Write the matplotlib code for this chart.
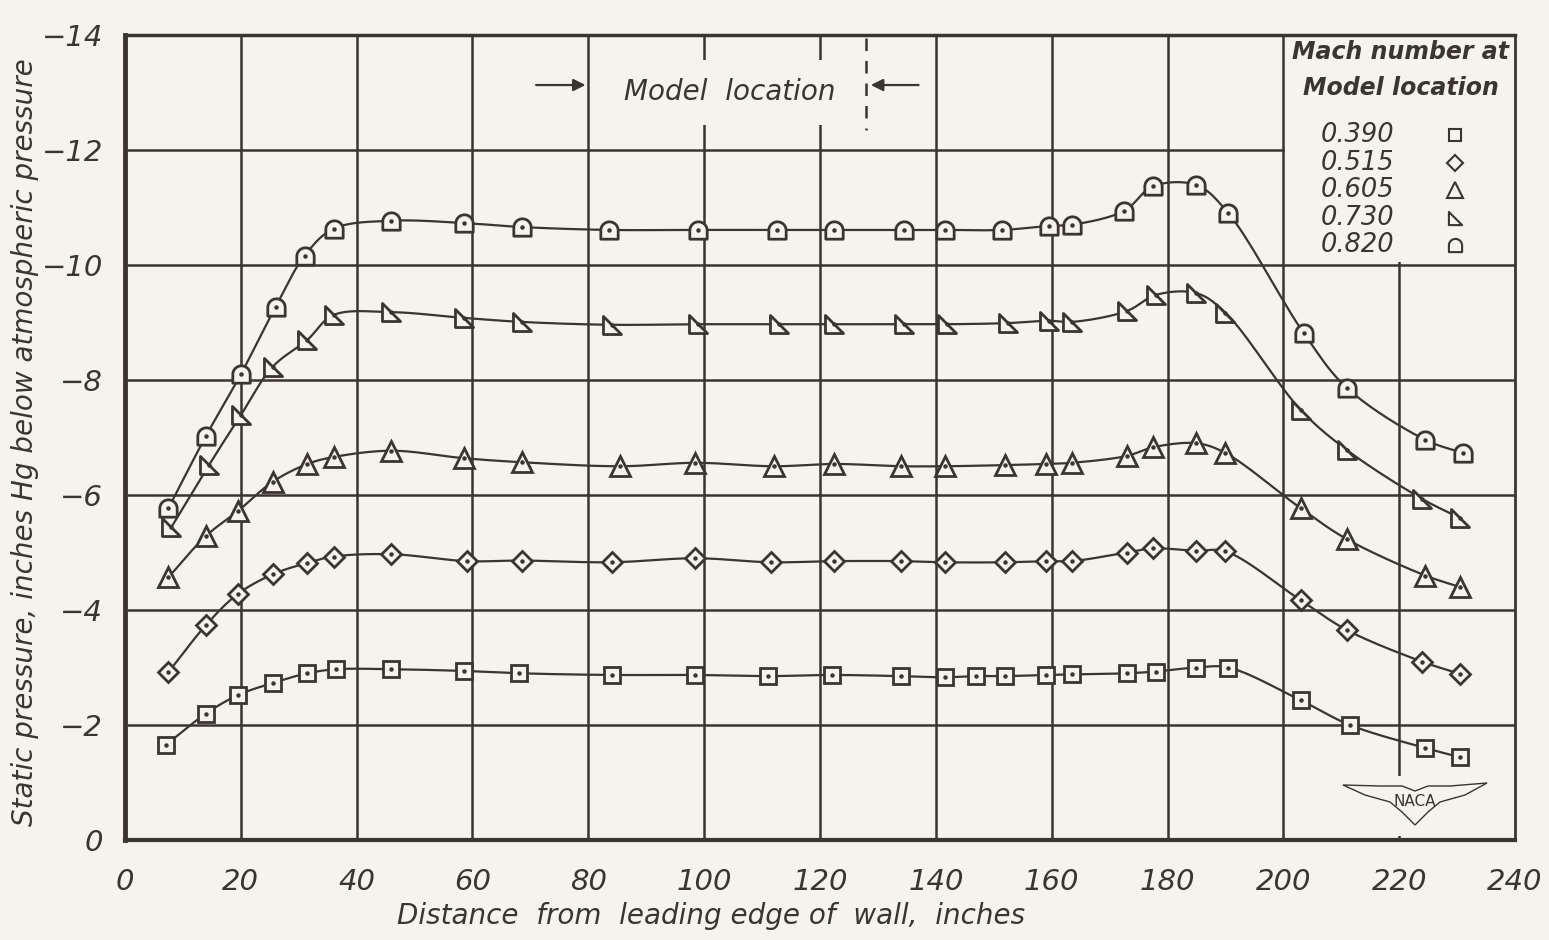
import numpy as np
import matplotlib
matplotlib.use("Agg")
import matplotlib.pyplot as plt
from matplotlib.path import Path
from matplotlib.patches import Rectangle, Polygon

# ---------------- data ----------------
sq_x = [7, 14, 19.5, 25.5, 31.5, 36.5, 46, 58.5, 68, 84, 98.5, 111, 122, 134, 141.5, 147, 152, 159, 163.5, 173, 178, 185, 190.5, 203, 211.5, 224.5, 230.5]
sq_y = [-1.65, -2.2, -2.52, -2.73, -2.9, -2.97, -2.97, -2.94, -2.9, -2.87, -2.87, -2.85, -2.87, -2.85, -2.83, -2.85, -2.85, -2.87, -2.88, -2.9, -2.93, -3.0, -3.0, -2.43, -2.0, -1.6, -1.44]

di_x = [7.5, 14, 19.5, 25.5, 31.5, 36, 46, 59, 68.5, 84, 98.5, 111.5, 122.5, 134, 141.5, 152, 159, 163.5, 173, 177.5, 185, 190, 203, 211, 224, 230.5]
di_y = [-2.92, -3.74, -4.28, -4.62, -4.82, -4.93, -4.97, -4.85, -4.86, -4.83, -4.9, -4.83, -4.85, -4.85, -4.83, -4.83, -4.85, -4.85, -5.0, -5.07, -5.03, -5.02, -4.17, -3.65, -3.1, -2.89]

tr_x = [7.5, 14, 19.5, 25.5, 31.5, 36, 46, 58.5, 68.5, 85.5, 98.5, 112, 122.5, 134, 141.5, 152, 159, 163.5, 173, 177.5, 185, 190, 203, 211, 224.5, 230.5]
tr_y = [-4.57, -5.29, -5.72, -6.23, -6.54, -6.66, -6.77, -6.64, -6.57, -6.5, -6.56, -6.5, -6.54, -6.5, -6.5, -6.52, -6.54, -6.56, -6.68, -6.83, -6.9, -6.73, -5.77, -5.23, -4.6, -4.4]

rt_x = [8, 14.5, 20, 25.5, 31.5, 36, 46, 58.5, 68.5, 84, 99, 113, 122.5, 134.5, 142, 152.5, 159.5, 163.5, 173, 178, 185, 190, 203, 211, 224, 230.5]
rt_y = [-5.44, -6.52, -7.39, -8.23, -8.7, -9.13, -9.18, -9.08, -9.01, -8.96, -8.97, -8.97, -8.97, -8.97, -8.97, -8.99, -9.03, -9.01, -9.2, -9.48, -9.51, -9.17, -7.48, -6.78, -5.93, -5.6]

hc_x = [7.5, 14, 20, 26, 31, 36, 46, 58.5, 68.5, 83.5, 99, 112.5, 122.5, 134.5, 141.5, 151.5, 159.5, 163.5, 172.5, 177.5, 185, 190.5, 203.5, 211, 224.5, 231]
hc_y = [-5.77, -7.03, -8.1, -9.27, -10.16, -10.63, -10.77, -10.73, -10.66, -10.61, -10.61, -10.61, -10.61, -10.61, -10.61, -10.61, -10.68, -10.7, -10.94, -11.37, -11.39, -10.9, -8.82, -7.86, -6.96, -6.73]

mach_labels = ["0.390", "0.515", "0.605", "0.730", "0.820"]
x_ticks = list(range(0, 241, 20))
y_ticks = list(range(0, -15, -2))

# ---------------- style ----------------
BG = "#f5f3eb"
INK = "#3a3432"
plt.rcParams['font.family'] = ['DejaVu Sans']

square = "s"
diamond = "D"
triangle = "^"
rtri = Path([(-1, -1), (1, -1), (-1, 1), (-1, -1)],
            [Path.MOVETO, Path.LINETO, Path.LINETO, Path.CLOSEPOLY])
ang = np.linspace(0, np.pi, 25)
dome_v = [(-1, -1), (1, -1), (1, 0)] + [(np.cos(a), np.sin(a)) for a in ang[1:]] + [(-1, -1)]
dome_c = [Path.MOVETO] + [Path.LINETO] * (len(dome_v) - 2) + [Path.CLOSEPOLY]
dome = Path(dome_v, dome_c)

series = [
    (sq_x, sq_y, square, 11.5),
    (di_x, di_y, diamond, 10.5),
    (tr_x, tr_y, triangle, 14.5),
    (rt_x, rt_y, rtri, 13),
    (hc_x, hc_y, dome, 12.5),
]


def smooth(xs, ys, n=20):
    sx, sy = 5.79, 57.5
    P = np.column_stack([np.asarray(xs) * sx, np.asarray(ys) * sy])
    pts = np.vstack([2 * P[0] - P[1], P, 2 * P[-1] - P[-2]])
    out = []
    for i in range(1, len(pts) - 2):
        p0, p1, p2, p3 = pts[i - 1], pts[i], pts[i + 1], pts[i + 2]
        t0 = 0.0
        t1 = t0 + np.linalg.norm(p1 - p0) ** 0.5
        t2 = t1 + np.linalg.norm(p2 - p1) ** 0.5
        t3 = t2 + np.linalg.norm(p3 - p2) ** 0.5
        t = np.linspace(t1, t2, n)[:, None]
        A1 = (t1 - t) / (t1 - t0) * p0 + (t - t0) / (t1 - t0) * p1
        A2 = (t2 - t) / (t2 - t1) * p1 + (t - t1) / (t2 - t1) * p2
        A3 = (t3 - t) / (t3 - t2) * p2 + (t - t2) / (t3 - t2) * p3
        B1 = (t2 - t) / (t2 - t0) * A1 + (t - t0) / (t2 - t0) * A2
        B2 = (t3 - t) / (t3 - t1) * A2 + (t - t1) / (t3 - t1) * A3
        C = (t2 - t) / (t2 - t1) * B1 + (t - t1) / (t2 - t1) * B2
        out.append(C if i == 1 else C[1:])
    C = np.vstack(out)
    return C[:, 0] / sx, C[:, 1] / sy


W, H = 1549, 940
fig = plt.figure(figsize=(W / 100, H / 100), dpi=100, facecolor=BG)
ax = fig.add_axes([125 / W, 1 - 840 / H, (1515 - 125) / W, (840 - 35) / H])
ax.set_facecolor(BG)
ax.set_xlim(0, 240)
ax.set_ylim(0, -14)

# grid
for xv in x_ticks[1:-1]:
    ax.axvline(xv, color=INK, lw=1.8, zorder=1)
for yv in y_ticks[1:-1]:
    ax.axhline(yv, color=INK, lw=1.8, zorder=1)

# cover regions where grid is interrupted
ax.add_patch(Rectangle((200.3, -14), 39.7, 3.95, fc=BG, ec='none', zorder=1.5))
ax.add_patch(Rectangle((82, -13.57), 44, 1.14, fc=BG, ec='none', zorder=1.5))

for sp in ax.spines.values():
    sp.set_color(INK)
ax.spines['left'].set_linewidth(3.5)
ax.spines['bottom'].set_linewidth(3)
ax.spines['top'].set_linewidth(2.5)
ax.spines['right'].set_linewidth(2)

ax.set_xticks(x_ticks)
ax.set_xticklabels([str(v) for v in x_ticks])
ax.set_yticks(y_ticks)
ax.set_yticklabels(["0" if v == 0 else "\u2212" + str(-v) for v in y_ticks])
ax.tick_params(length=0, labelsize=21, colors=INK)
ax.tick_params(axis='x', pad=20)
ax.tick_params(axis='y', pad=16)
for lab in ax.get_xticklabels() + ax.get_yticklabels():
    lab.set_fontstyle('italic')

# data
for xs, ys, mk, ms in series:
    cx, cy = smooth(xs, ys)
    ax.plot(cx, cy, color=INK, lw=1.6, zorder=3)
    ax.plot(xs, ys, ls='none', marker=mk, ms=ms, mfc=BG, mec=INK, mew=2.0, zorder=4)
    ax.plot(xs, ys, ls='none', marker='o', ms=2.2, mfc=INK, mec=INK, zorder=5)

# model location annotation
ax.text(104.5, -13.0, "Model  location", fontsize=20, style='italic', color=INK,
        ha='center', va='center', zorder=6)
ax.annotate("", xy=(80, -13.13), xytext=(70.5, -13.13),
            arrowprops=dict(arrowstyle='-|>', color=INK, lw=1.6, mutation_scale=18), zorder=6)
ax.annotate("", xy=(128.3, -13.13), xytext=(137.5, -13.13),
            arrowprops=dict(arrowstyle='-|>', color=INK, lw=1.6, mutation_scale=18), zorder=6)
ax.plot([128, 128], [-13.95, -12.35], color=INK, lw=1.8, ls=(0, (5, 4)), zorder=6)

# legend
ax.text(220.3, -13.7, "Mach number at", fontsize=17, style='italic', weight='bold',
        color=INK, ha='center', va='center', zorder=6)
ax.text(220.3, -13.08, "Model location", fontsize=17, style='italic', weight='bold',
        color=INK, ha='center', va='center', zorder=6)
leg_y = [-12.26, -11.78, -11.3, -10.82, -10.34]
leg_ms = [9, 8.5, 11, 9.5, 9.5]
for (xs, ys, mk, ms), lab, yy, lms in zip(series, mach_labels, leg_y, leg_ms):
    ax.text(206.5, yy, lab, fontsize=18.5, style='italic', color=INK,
            ha='left', va='center', zorder=6)
    ax.plot([229.6], [yy], ls='none', marker=mk, ms=lms, mfc=BG, mec=INK,
            mew=1.5, zorder=6)

# axis labels
fig.text(25 / W, 1 - 442 / H, "Static pressure, inches Hg below atmospheric pressure",
         rotation=90, fontsize=20, style='italic', color=INK, ha='center', va='center')
fig.text(711 / W, 1 - 916 / H, "Distance  from  leading edge of  wall,  inches",
         fontsize=20, style='italic', color=INK, ha='center', va='center')

# NACA emblem
def px(p):
    return [(x / W, 1 - y / H) for x, y in p]

ax.add_patch(Rectangle((219, -1.12), 2, 1.05, fc=BG, ec='none', zorder=1.5))
wing = px([(1343, 785), (1380, 786), (1402, 786), (1415, 791), (1428, 786), (1450, 786),
           (1487, 783), (1465, 795), (1440, 802), (1428, 812), (1415, 825), (1402, 812),
           (1390, 802), (1365, 795)])
fig.patches.append(Polygon(wing, closed=True, fc=BG, ec=INK, lw=1.0,
                           transform=fig.transFigure, figure=fig, zorder=7))
fig.text(1415 / W, 1 - 802 / H, "NACA", fontsize=11, color=INK, ha='center',
         va='center', zorder=8)

fig.savefig("out.png", dpi=100, facecolor=BG)
